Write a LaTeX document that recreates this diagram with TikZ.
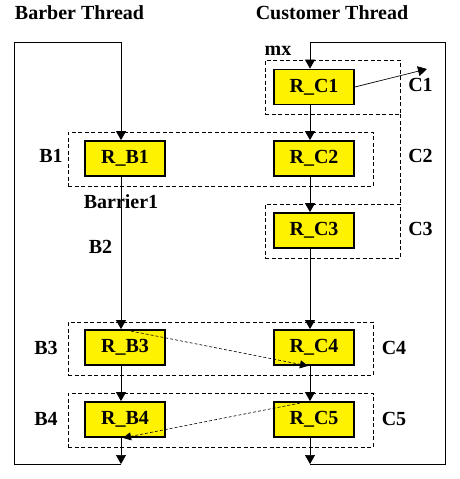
\documentclass[tikz,border=0pt]{standalone}
\usepackage{fontspec}
\setmainfont{Liberation Serif}
\usetikzlibrary{arrows.meta, positioning}

\begin{document}
\begin{tikzpicture}[x=1pt, y=-1pt, on grid,
  >={Triangle[length=9pt, width=10pt]},
  tag/.style={font=\fontsize{20}{23}\selectfont\bfseries, anchor=base, inner sep=0pt},
  box/.style={draw, fill=yellow, line width=1.8pt, minimum width=80pt, minimum height=35pt,
    font=\fontsize{20}{23}\selectfont\bfseries},
  group/.style={draw, dash pattern=on 4pt off 2.5pt, line width=0.7pt, inner sep=0pt},
  flow/.style={->, line width=0.7pt},
  signal/.style={-{Triangle[length=8pt, width=8pt]}, line width=0.6pt, dash pattern=on 3pt off 2pt}]
  \useasboundingbox (0,0) rectangle (460,479);
  % thread boxes
  \node[box] (rc1) at (314,87) {R\_C1};
  \node[box] (rc2) [below=71.5pt of rc1] {R\_C2};
  \node[box] (rc3) [below=72pt of rc2] {R\_C3};
  \node[box] (rc4) [below=117pt of rc3] {R\_C4};
  \node[box] (rc5) [below=72pt of rc4] {R\_C5};
  \node[box] (rb1) [left=189pt of rc2] {R\_B1};
  \node[box] (rb3) [left=189pt of rc4] {R\_B3};
  \node[box] (rb4) [left=189pt of rc5] {R\_B4};
  % dashed regions
  \node[group, minimum width=135pt, minimum height=54pt] (gC1) at (332.5,87) {};
  \node[group, minimum width=305pt, minimum height=54pt] (gB1) at (220.5,159) {};
  \node[group, minimum width=135pt, minimum height=54pt] (gC3) at (332.5,231) {};
  \node[group, minimum width=305pt, minimum height=53pt] (gB3) at (220.5,348.5) {};
  \node[group, minimum width=305pt, minimum height=54pt] (gB4) at (220.5,420) {};
  \draw[group] (gC1.south east) -- (gC3.north east);
  % labels
  \node[tag] (tb) at (79.5,19.5) {Barber Thread};
  \node[tag] (tc) at (332,19.5) {Customer Thread};
  \node[tag] (mx) at (278,55) {mx};
  \node[tag] (c1) at (420.5,91.7) {C1};
  \node[tag] (c2) at (420.5,162.7) {C2};
  \node[tag] (c3) at (420.5,235) {C3};
  \node[tag] (c4) at (394,354.3) {C4};
  \node[tag] (c5) at (394,425) {C5};
  \node[tag] (b1) at (51,162.7) {B1};
  \node[tag] (bar) at (121,208.3) {Barrier1};
  \node[tag] (b2) at (100.5,253.3) {B2};
  \node[tag] (b3) at (46,354.3) {B3};
  \node[tag] (b4) at (46,425) {B4};
  % loop corners
  \coordinate (bTop) at (121,42);
  \coordinate (bEnd) at (121,464);
  \coordinate (bl) at (14,464);
  \coordinate (tl) at (14,42);
  \coordinate (cTop) at (310,42);
  \coordinate (cEnd) at (310,464);
  \coordinate (br) at (445,464);
  \coordinate (tr) at (445,42);
  \coordinate (c1out) at (427,69);
  % barber thread
  \draw[flow] (bEnd) -- (bl) -- (tl) -- (bTop) -- ([xshift=-4pt]rb1.north);
  \draw[flow] ([xshift=-4pt]rb1.south) -- ([xshift=-4pt]rb3.north);
  \draw[flow] ([xshift=-4pt]rb3.south) -- ([xshift=-4pt]rb4.north);
  \draw[flow] ([xshift=-4pt]rb4.south) -- (bEnd);
  % customer thread
  \draw[flow] (cEnd) -- (br) -- (tr) -- (cTop) -- ([xshift=-4pt]rc1.north);
  \draw[flow] ([xshift=-4pt]rc1.south) -- ([xshift=-4pt]rc2.north);
  \draw[flow] ([xshift=-4pt]rc2.south) -- ([xshift=-4pt]rc3.north);
  \draw[flow] ([xshift=-4pt]rc3.south) -- ([xshift=-4pt]rc4.north);
  \draw[flow] ([xshift=-4pt]rc4.south) -- ([xshift=-4pt]rc5.north);
  \draw[flow] ([xshift=-4pt]rc5.south) -- (cEnd);
  \draw[flow] (rc1.east) -- (c1out);
  % signals
  \draw[signal] ([xshift=-4pt]rb3.north) -- ([xshift=-6pt]rc4.south);
  \draw[signal] ([xshift=-4pt]rc5.north) -- ([xshift=-2pt]rb4.south);
\end{tikzpicture}
\end{document}
